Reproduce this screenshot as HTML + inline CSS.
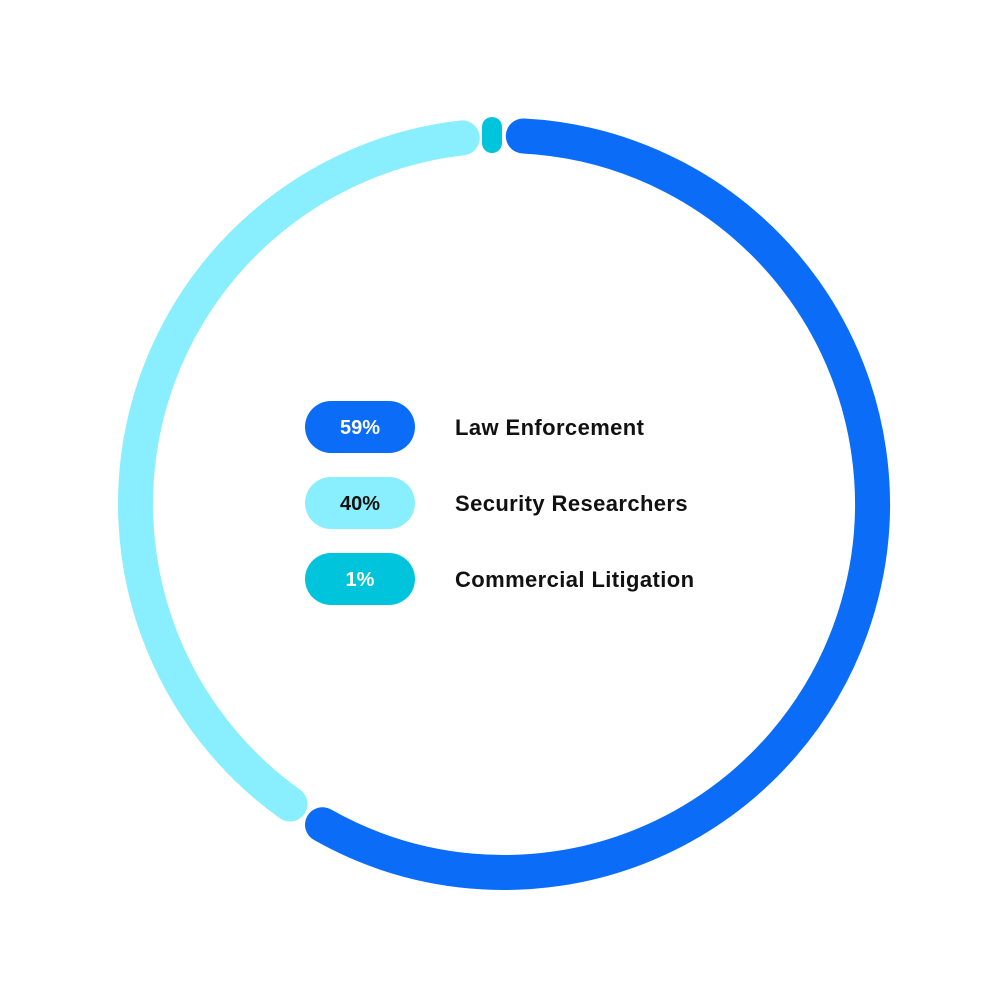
<!DOCTYPE html>
<html><head><meta charset="utf-8"><style>
html,body{margin:0;padding:0;background:#fff;}
body{width:1008px;height:1008px;position:relative;overflow:hidden;font-family:"Liberation Sans",sans-serif;}
</style></head><body>
<svg width="1008" height="1008" viewBox="0 0 1008 1008" style="position:absolute;left:0;top:0">
<path d="M523.3 136.0 A368.5 368.5 0 1 1 322.5 824.7" fill="none" stroke="#0a6cf7" stroke-width="35" stroke-linecap="round"/>
<path d="M290.0 804.0 A368.5 368.5 0 0 1 462.3 137.9" fill="none" stroke="#89eefd" stroke-width="35" stroke-linecap="round"/>
<rect x="482" y="117" width="20" height="36" rx="10" fill="#00c4dc"/>
<rect x="305" y="401" width="110" height="52" rx="26" fill="#0a6cf7"/>
<rect x="305" y="477" width="110" height="52" rx="26" fill="#89eefd"/>
<rect x="305" y="553" width="110" height="52" rx="26" fill="#00c4dc"/>
<g font-family="Liberation Sans, sans-serif" font-size="20" font-weight="bold" text-anchor="middle">
<text x="360" y="434" fill="#fff">59%</text>
<text x="360" y="510" fill="#111">40%</text>
<text x="360" y="586" fill="#fff">1%</text>
</g>
<g font-family="Liberation Sans, sans-serif" font-size="22" font-weight="bold" fill="#111" letter-spacing="0.4">
<text x="455" y="435">Law Enforcement</text>
<text x="455" y="511">Security Researchers</text>
<text x="455" y="587">Commercial Litigation</text>
</g>
</svg>
</body></html>
